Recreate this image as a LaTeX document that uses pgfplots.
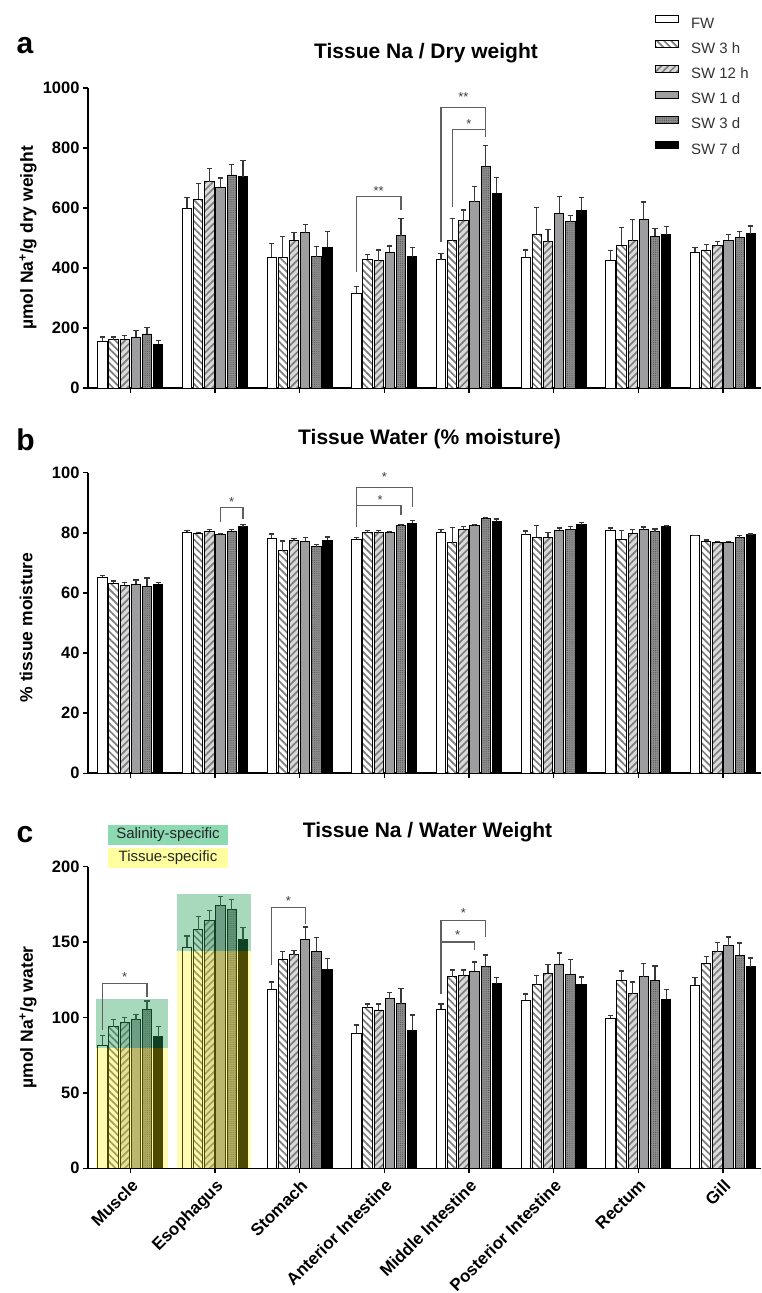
\documentclass[border=0pt]{standalone}
\usepackage{pgfplots}
\pgfplotsset{compat=1.18}
\usepackage{pgfplotstable}
\usetikzlibrary{patterns.meta}
\usepackage{fontspec}
\setmainfont{Liberation Sans}

\definecolor{g1d}{RGB}{158,158,160}
\definecolor{g3d}{RGB}{140,140,140}
\definecolor{g3ddot}{RGB}{85,85,85}
\definecolor{g12}{RGB}{218,218,218}
\definecolor{stripe}{RGB}{125,125,125}
\definecolor{errc}{RGB}{55,55,55}
\definecolor{brk}{RGB}{95,95,95}
\definecolor{hlgreen}{RGB}{40,160,90}
\definecolor{labgreen}{RGB}{140,217,178}
\definecolor{labyellow}{RGB}{255,255,160}

% Panel a: Tissue Na / dry weight (mean, error)
\pgfplotstableread{
x a ea b eb c ec d ed e ee f ef
0 155 15 161 9 163 12 170 22 180 21 146 11
1 600 35 629 52 688 44 670 30 710 35 704 54
2 436 46 436 68 493 25 518 27 438 33 469 52
3 316 22 429 17 424 36 452 21 507 59 438 30
4 427 22 491 75 558 35 621 50 739 68 649 53
5 435 25 512 90 488 39 582 55 554 22 593 42
6 425 33 476 58 491 70 563 57 506 26 511 27
7 453 16 460 18 474 14 493 19 502 20 514 26
}\tabA
% Panel b: tissue water
\pgfplotstableread{
x a ea b eb c ec d ed e ee f ef
0 65.3 0.5 63.2 0.8 62.5 1.0 62.9 1.4 62.2 2.8 62.9 0.6
1 80.2 0.6 79.8 0.4 80.5 0.5 79.4 0.3 80.5 0.5 82.0 0.8
2 78.2 1.4 74.0 3.3 77.4 0.8 77.2 1.3 75.3 0.7 77.5 1.1
3 77.8 0.6 80.0 0.8 80.0 0.8 80.0 0.5 82.3 0.5 83.1 1.1
4 80.0 1.0 76.7 5.1 81.2 1.0 82.3 0.5 84.7 0.5 83.9 0.7
5 79.4 1.2 78.5 3.8 78.6 1.4 80.9 0.7 81.2 1.0 82.7 0.6
6 80.8 0.8 77.8 2.9 79.9 1.3 81.2 0.7 80.3 1.0 82.2 0.2
7 79.0 0.2 77.2 0.4 76.8 0.4 76.9 0.3 78.3 0.7 79.4 0.2
}\tabB
% Panel c: Tissue Na / water weight
\pgfplotstableread{
x a ea b eb c ec d ed e ee f ef
0 81.5 6.5 93.9 5.0 97.0 3.0 98.6 3.5 105.4 5.6 87.3 6.7
1 146.7 7.3 158.2 8.8 164.2 6.8 174.0 6.0 171.5 6.5 151.6 8.0
2 118.7 4.8 138.6 5.0 141.7 2.6 152.0 8.0 144.0 9.0 132.0 7.0
3 89.5 5.5 106.5 2.5 105.0 4.0 112.5 4.0 109.0 10.0 91.7 10.0
4 105.6 3.4 127.0 4.5 127.7 3.8 130.6 6.2 133.7 7.7 122.4 4.2
5 111.4 4.2 121.8 5.9 129.3 5.9 135.5 7.3 128.8 9.5 122.2 4.7
6 99.7 1.5 124.6 6.2 115.8 7.7 127.0 8.7 124.6 9.5 112.0 6.7
7 121.5 4.9 136.1 4.4 143.6 6.0 147.6 5.8 141.2 8.2 133.7 5.7
}\tabC

\tikzset{
  sigstar/.style={font=\fontsize{13}{13}\selectfont, text=black!75, inner sep=0pt, anchor=base, yshift=-7.5pt},
}

\pgfplotsset{
  sbase/.style={draw=black, line width=0.9pt,
    legend image code/.code={\draw[##1] (0pt,1pt) rectangle (23pt,8pt);}},
  sFW/.style={sbase, fill=white},
  sH3/.style={sbase, fill=white, postaction={pattern={Lines[angle=-45,distance=5pt,line width=1.7pt]}, pattern color=stripe, draw=black, line width=0.9pt}},
  sH12/.style={sbase, fill=g12, postaction={pattern={Lines[angle=45,distance=5pt,line width=1.7pt]}, pattern color=stripe, draw=black, line width=0.9pt}},
  sD1/.style={sbase, fill=g1d},
  sD3/.style={sbase, fill=g3d, postaction={pattern={Dots[distance=2.2pt,radius=0.55pt]}, pattern color=g3ddot, draw=black, line width=0.9pt}},
  sD7/.style={sbase, fill=black},
  panel/.style={
    scale only axis, width=673pt, anchor=south west,
    xmin=-0.5, xmax=7.45, ymin=0,
    ybar, bar width=0.11,
    axis x line=bottom, axis y line=left,
    axis line style={line width=1.6pt, -},
    xtick={0,...,7}, tick align=outside, major tick length=5pt,
    tick style={line width=1.5pt, black},
    yticklabel style={font=\bfseries\fontsize{16.5}{16.5}\selectfont},
    xticklabel style={font=\bfseries\fontsize{17}{17}\selectfont, rotate=45, anchor=north east},
    /pgf/number format/assume math mode=true,
    /pgf/number format/1000 sep={},
    scaled y ticks=false,
    every axis y label/.style={at={(axis description cs:-0.089,0.5)}, rotate=90, anchor=center, font=\bfseries\fontsize{17.5}{17.5}\selectfont},
    error bars/y dir=plus, error bars/y explicit,
    error bars/error bar style={line width=1.2pt, errc},
    error bars/error mark options={rotate=90, mark size=2.6pt, line width=1.2pt, errc},
    clip=false, enlargelimits=false,
  },
}

\newcommand{\sixbars}[1]{%
  \addplot[sFW, bar shift=-0.33] table[x=x,y=a,y error=ea]{#1};
  \addplot[sH3, bar shift=-0.198] table[x=x,y=b,y error=eb]{#1};
  \addplot[sH12, bar shift=-0.066] table[x=x,y=c,y error=ec]{#1};
  \addplot[sD1, bar shift=0.066] table[x=x,y=d,y error=ed]{#1};
  \addplot[sD3, bar shift=0.198] table[x=x,y=e,y error=ee]{#1};
  \addplot[sD7, bar shift=0.33] table[x=x,y=f,y error=ef]{#1};
}

\begin{document}
\begin{tikzpicture}
\path[use as bounding box] (0,0) rectangle (761pt,1293pt);

% ---------------- panel a
\begin{axis}[panel, at={(88pt,905pt)}, height=300pt, ymax=1000,
  ytick={0,200,...,1000}, xticklabels={},
  ylabel={µmol Na\textsuperscript{+}/g dry weight},
  legend entries={FW, SW 3 h, SW 12 h, SW 1 d, SW 3 d, SW 7 d},
  legend cell align=left,
  legend style={at={(axis description cs:0.838,1.25)}, anchor=north west,
    draw=none, fill=none, font=\fontsize{15}{15}\selectfont, text=black!80,
    row sep=8.6pt, /tikz/every odd column/.append style={column sep=10pt}},
]
\sixbars{\tabA}
\draw[brk, line width=1.2pt] (axis cs:2.67,388) -- (axis cs:2.67,637) -- (axis cs:3.198,637) -- (axis cs:3.198,593);
\node[sigstar] at (axis cs:2.934,668) {**};
\draw[brk, line width=1.2pt] (axis cs:3.67,488) -- (axis cs:3.67,936) -- (axis cs:4.198,936) -- (axis cs:4.198,838);
\node[sigstar] at (axis cs:3.934,979) {**};
\draw[brk, line width=1.2pt] (axis cs:3.802,604) -- (axis cs:3.802,862) -- (axis cs:4.198,862);
\node[sigstar] at (axis cs:4.0,891) {*};
\end{axis}

% ---------------- panel b
\begin{axis}[panel, at={(88pt,519.7pt)}, height=300.6pt, ymax=100,
  ytick={0,20,...,100}, xticklabels={},
  ylabel={\% tissue moisture},
  every axis y label/.append style={at={(axis description cs:-0.092,0.485)}},
]
\sixbars{\tabB}
\draw[brk, line width=1.2pt] (axis cs:1.066,83.5) -- (axis cs:1.066,88.5) -- (axis cs:1.33,88.5) -- (axis cs:1.33,84.6);
\node[sigstar] at (axis cs:1.198,91.4) {*};
\draw[brk, line width=1.2pt] (axis cs:2.67,81.8) -- (axis cs:2.67,95.1) -- (axis cs:3.33,95.1) -- (axis cs:3.33,88.5);
\node[sigstar] at (axis cs:3.0,99.6) {*};
\draw[brk, line width=1.2pt] (axis cs:2.67,89) -- (axis cs:3.198,89) -- (axis cs:3.198,85.9);
\node[sigstar] at (axis cs:2.95,92) {*};
\end{axis}

% ---------------- panel c
\begin{axis}[panel, at={(88pt,124.7pt)}, height=301.6pt, ymax=200,
  ytick={0,50,...,200},
  xticklabels={Muscle, Esophagus, Stomach, Anterior Intestine, Middle Intestine, Posterior Intestine, Rectum, Gill},
  ylabel={µmol Na\textsuperscript{+}/g water},
]
\sixbars{\tabC}
\fill[yellow, fill opacity=0.3] (axis cs:-0.40,0) rectangle (axis cs:0.448,80);
\fill[hlgreen, fill opacity=0.4] (axis cs:-0.40,80) rectangle (axis cs:0.448,112);
\fill[yellow, fill opacity=0.3] (axis cs:0.554,0) rectangle (axis cs:1.427,144);
\fill[hlgreen, fill opacity=0.4] (axis cs:0.554,144) rectangle (axis cs:1.427,181.7);
\draw[brk, line width=1.2pt] (axis cs:-0.33,91.7) -- (axis cs:-0.33,122.7) -- (axis cs:0.198,122.7) -- (axis cs:0.198,113.8);
\node[sigstar] at (axis cs:-0.066,128.8) {*};
\draw[brk, line width=1.2pt] (axis cs:1.67,135) -- (axis cs:1.67,172.8) -- (axis cs:2.066,172.8) -- (axis cs:2.066,162);
\node[sigstar] at (axis cs:1.868,179.4) {*};
\draw[brk, line width=1.2pt] (axis cs:3.67,115.6) -- (axis cs:3.67,164.4) -- (axis cs:4.198,164.4) -- (axis cs:4.198,153.6);
\node[sigstar] at (axis cs:3.934,171.3) {*};
\draw[brk, line width=1.2pt] (axis cs:3.67,150) -- (axis cs:4.066,150) -- (axis cs:4.066,144.8);
\node[sigstar] at (axis cs:3.868,157) {*};
\end{axis}

% titles and panel letters
\node[font=\bfseries\fontsize{21}{21}\selectfont] at (426pt,1240pt) {Tissue Na / Dry weight};
\node[font=\bfseries\fontsize{30}{30}\selectfont] at (25pt,1247pt) {a};
\node[font=\bfseries\fontsize{21}{21}\selectfont] at (429.5pt,854pt) {Tissue Water (\% moisture)};
\node[font=\bfseries\fontsize{30}{30}\selectfont] at (25.5pt,853pt) {b};
\node[font=\bfseries\fontsize{21}{21}\selectfont] at (427.5pt,461pt) {Tissue Na / Water Weight};
\node[font=\bfseries\fontsize{30}{30}\selectfont] at (25pt,458pt) {c};
\node[fill=labgreen, minimum width=120pt, minimum height=20pt, inner sep=0pt, font=\fontsize{15}{15}\selectfont, text=black!85] at (168pt,458pt) {Salinity-specific};
\node[fill=labyellow, minimum width=120pt, minimum height=19.5pt, inner sep=0pt, font=\fontsize{15}{15}\selectfont, text=black!85] at (168pt,435pt) {Tissue-specific};
\end{tikzpicture}
\end{document}
